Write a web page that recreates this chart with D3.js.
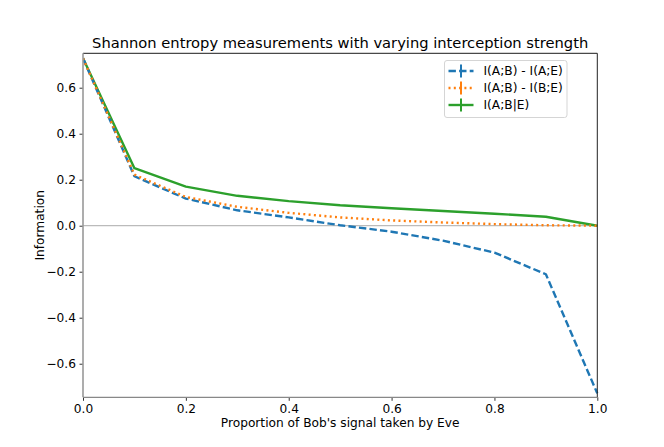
<!DOCTYPE html>
<html><head><meta charset="utf-8">
<script src="https://cdn.jsdelivr.net/npm/d3@7"></script>
<style>body{margin:0;background:#fff}svg{display:block}text{font-family:"DejaVu Sans",sans-serif}</style>
</head><body>
<svg id="c" width="664" height="447"></svg>
<script>
const xs = [0, 0.1, 0.2, 0.3, 0.4, 0.5, 0.6, 0.7, 0.8, 0.9, 1.0];
const seriesAE = [0.728, 0.215, 0.118, 0.067, 0.036, 0.002, -0.026, -0.065, -0.117, -0.211, -0.729];
const seriesBE = [0.728, 0.222, 0.125, 0.082, 0.056, 0.036, 0.023, 0.014, 0.007, 0.002, 0.0];
const seriesCond = [0.728, 0.25, 0.17, 0.13, 0.107, 0.089, 0.076, 0.064, 0.052, 0.039, 0.0];
const xTicks = [0, 0.2, 0.4, 0.6, 0.8, 1.0];
const yTicks = [-0.6, -0.4, -0.2, 0.0, 0.2, 0.4, 0.6];
const names = ["I(A;B) - I(A;E)", "I(A;B) - I(B;E)", "I(A;B|E)"];
const colors = ["#1f77b4", "#ff7f0e", "#2ca02c"];
const dashes = ["7.4,3.2", "2,3.3", null];

const svg = d3.select("#c");
const L = 83, R = 597.3, T = 53.3, B = 397.3;
const x = d3.scaleLinear().domain([0, 1]).range([L, R]);
const y = d3.scaleLinear().domain([-0.746, 0.7496]).range([B, T]);

// zero line
svg.append("line").attr("x1", L).attr("x2", R).attr("y1", y(0)).attr("y2", y(0))
  .attr("stroke", "#bbbbbb").attr("stroke-width", 1.2);

const line = d3.line().x((d, i) => x(xs[i])).y(d => y(d));
const allSeries = [seriesAE, seriesBE, seriesCond];
svg.append("defs").append("clipPath").attr("id", "clip").append("rect")
  .attr("x", L).attr("y", T - 2).attr("width", R - L + 2).attr("height", B - T + 4);
const g = svg.append("g").attr("clip-path", "url(#clip)");
[2, 0, 1].forEach(k => {
  const p = g.append("path").datum(allSeries[k]).attr("d", line)
    .attr("fill", "none").attr("stroke", colors[k]).attr("stroke-width", 2.4)
    .attr("stroke-linejoin", "round");
  if (dashes[k]) p.attr("stroke-dasharray", dashes[k]);
});

// axes
const xAxis = d3.axisBottom(x).tickValues(xTicks).tickFormat(d3.format(".1f")).tickSizeOuter(0).tickSize(3.5).tickPadding(3.5);
const yAxis = d3.axisLeft(y).tickValues(yTicks).tickFormat(d => d3.format(".1f")(d).replace("-", "\u2212")).tickSizeOuter(0).tickSize(3.5).tickPadding(3.5);
const gx = svg.append("g").attr("transform", `translate(0,${B})`).call(xAxis);
const gy = svg.append("g").attr("transform", `translate(${L},0)`).call(yAxis);
[gx, gy].forEach(a => {
  a.select(".domain").remove();
  a.selectAll("text").attr("font-size", 12.2).attr("fill", "#000").style("font-family", "DejaVu Sans");
  a.selectAll(".tick line").attr("stroke", "#000").attr("stroke-width", 0.8);
});

// spines
svg.append("line").attr("x1", L).attr("x2", R).attr("y1", T).attr("y2", T).attr("stroke", "#000").attr("stroke-width", 0.9);
svg.append("line").attr("x1", R).attr("x2", R).attr("y1", T).attr("y2", B).attr("stroke", "#222").attr("stroke-width", 1);
svg.append("line").attr("x1", L).attr("x2", L).attr("y1", T).attr("y2", B).attr("stroke", "#999").attr("stroke-width", 1.6);
svg.append("line").attr("x1", L).attr("x2", R).attr("y1", B).attr("y2", B).attr("stroke", "#888").attr("stroke-width", 1.3);

// title and labels
svg.append("text").attr("x", (L + R) / 2).attr("y", 48).attr("text-anchor", "middle")
  .attr("font-size", 14.7).text("Shannon entropy measurements with varying interception strength");
svg.append("text").attr("x", (L + R) / 2).attr("y", 427).attr("text-anchor", "middle")
  .attr("font-size", 12.2).text("Proportion of Bob's signal taken by Eve");
svg.append("text").attr("transform", `translate(44,${(T + B) / 2}) rotate(-90)`).attr("text-anchor", "middle")
  .attr("font-size", 12.2).text("Information");

// legend
const lg = svg.append("g");
lg.append("rect").attr("x", 444.5).attr("y", 60.5).attr("width", 122.5).attr("height", 57).attr("rx", 2.5)
  .attr("fill", "#fff").attr("fill-opacity", 0.8).attr("stroke", "#d5d5d5").attr("stroke-width", 1);
names.forEach((n, k) => {
  const cy = 71 + k * 17;
  const l = lg.append("line").attr("x1", 448.5).attr("x2", 473.5).attr("y1", cy).attr("y2", cy)
    .attr("stroke", colors[k]).attr("stroke-width", 2.4);
  if (dashes[k]) l.attr("stroke-dasharray", dashes[k]);
  lg.append("line").attr("x1", 461).attr("x2", 461).attr("y1", cy - 6.5).attr("y2", cy + 6.5)
    .attr("stroke", colors[k]).attr("stroke-width", 2);
  lg.append("text").attr("x", 483.5).attr("y", cy + 4.3).attr("font-size", 12.2).text(n);
});
</script>
</body></html>
